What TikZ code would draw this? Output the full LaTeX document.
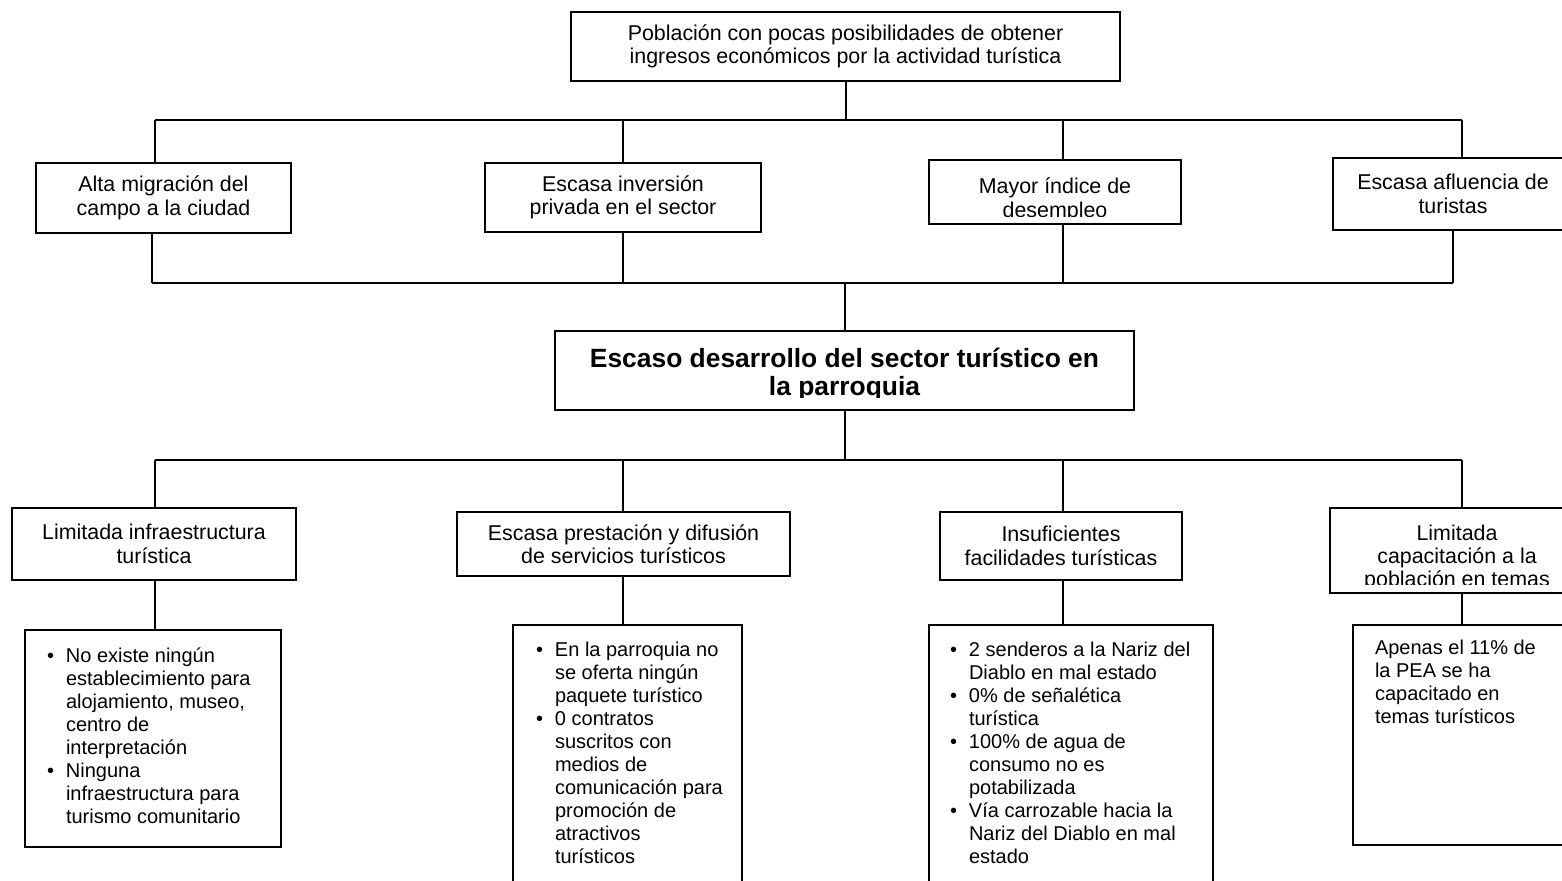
\documentclass[tikz,border=0pt]{standalone}
\usepackage{fontspec}
\setmainfont{Liberation Sans}
\usepackage{tikz}
\usetikzlibrary{positioning, calc}

\newcommand{\bul}{\makebox[9.5pt][l]{\textbullet}}
\newcommand{\ind}{\makebox[9.5pt]{}}

\begin{document}
\begin{tikzpicture}[x=0.5pt, y=-0.5pt, line width=1pt,
  box/.style={draw, inner sep=0pt, align=center, font=\fontsize{10.7}{11.7}\selectfont},
  txt/.style={inner sep=0pt, align=center, font=\fontsize{10.7}{11.7}\selectfont},
  lst/.style={inner sep=0pt, align=left, anchor=north west, font=\fontsize{10}{11.5}\selectfont}]
\clip (0,0) rectangle (1562,881);

% efectos
\node[box, minimum width=274.5pt, minimum height=34.5pt] (top) at (845.5,46.5)
  {Población con pocas posibilidades de obtener\\ingresos económicos por la actividad turística};
\node[box, minimum width=127.5pt, minimum height=35pt] (b1) at (163.5,198) {Alta migración del\\campo a la ciudad};
\node[box, minimum width=138pt, minimum height=34.5pt] (b2) at (623,197.5) {Escasa inversión\\privada en el sector};
\node[box, minimum width=126pt, minimum height=32pt] (b3) at (1055,192) {};
\node[box, minimum width=120pt, minimum height=36pt] (b4) at (1453,194) {Escasa afluencia de\\turistas};
\begin{scope}
  \clip ([yshift=4pt]b3.south west) rectangle (b3.north east);
  \node[txt] (b3t) at (1055,200) {Mayor índice de\\desempleo};
\end{scope}

% problema central
\node[draw, inner sep=0pt, minimum width=289.5pt, minimum height=39.5pt] (mid) at (844.5,370.5) {};
\begin{scope}
  \clip ([yshift=6.5pt]mid.south west) rectangle (mid.north east);
  \node[txt, font=\fontsize{13.2}{14}\selectfont\bfseries] (midt) at (844.5,375)
    {Escaso desarrollo del sector turístico en\\la parroquia};
\end{scope}

% causas
\node[box, minimum width=142pt, minimum height=36pt] (l1) at (154,544) {Limitada infraestructura\\turística};
\node[box, minimum width=166.5pt, minimum height=32pt] (l2) at (623.5,544) {Escasa prestación y difusión\\de servicios turísticos};
\node[box, minimum width=121pt, minimum height=34pt] (l3) at (1061,546) {Insuficientes\\facilidades turísticas};
\node[box, minimum width=127pt, minimum height=42.5pt] (l4) at (1457,550.5) {};
\begin{scope}
  \clip ([yshift=5pt]l4.south west) rectangle (l4.north east);
  \node[txt] (l4t) at (1457,558) {Limitada\\capacitación a la\\población en temas};
\end{scope}

% indicadores
\node[draw, inner sep=0pt, minimum width=128pt, minimum height=108.5pt] (d1) at (153,738.5) {};
\node[draw, inner sep=0pt, minimum width=114.5pt, minimum height=137.5pt] (d2) at (627.5,762.5) {};
\node[draw, inner sep=0pt, minimum width=142pt, minimum height=137.5pt] (d3) at (1071,762.5) {};
\node[draw, inner sep=0pt, minimum width=123.5pt, minimum height=110pt] (d4) at (1476.5,735) {};

\node[lst] (d1t) at (46,647) {\bul No existe ningún\\\ind establecimiento para\\\ind alojamiento, museo,\\\ind centro de\\\ind interpretación\\\bul Ninguna\\\ind infraestructura para\\\ind turismo comunitario};
\node[lst] (d2t) at (535,641) {\bul En la parroquia no\\\ind se oferta ningún\\\ind paquete turístico\\\bul 0 contratos\\\ind suscritos con\\\ind medios de\\\ind comunicación para\\\ind promoción de\\\ind atractivos\\\ind turísticos};
\node[lst] (d3t) at (949,641) {\bul 2 senderos a la Nariz del\\\ind Diablo en mal estado\\\bul 0\% de señalética\\\ind turística\\\bul 100\% de agua de\\\ind consumo no es\\\ind potabilizada\\\bul Vía carrozable hacia la\\\ind Nariz del Diablo en mal\\\ind estado};
\node[lst] (d4t) at (1374,639) {Apenas el 11\% de\\la PEA se ha\\capacitado en\\temas turísticos};

% lineas
\coordinate (t1) at (155,120); \coordinate (t2) at (623,120);
\coordinate (t3) at (1063,120); \coordinate (t4) at (1462,120);
\coordinate (u1) at (152,283); \coordinate (u2) at (623,283);
\coordinate (u3) at (1063,283); \coordinate (u4) at (1453,283);
\coordinate (v1) at (155,460); \coordinate (v2) at (623,460);
\coordinate (v3) at (1063,460); \coordinate (v4) at (1462,460);

\draw (top.south) -- (top.south |- t1);
\draw (t1) -- (t4);
\draw (u1) -- (u4);
\draw (mid.north) -- (mid.north |- u1);
\draw (mid.south) -- (mid.south |- v1);
\draw (v1) -- (v4);
\foreach \i in {1,...,4}{
  \draw (t\i) -- (t\i |- b\i.north);
  \draw (u\i) -- (u\i |- b\i.south);
  \draw (v\i) -- (v\i |- l\i.north);
  \draw (v\i |- l\i.south) -- (v\i |- d\i.north);
}
\end{tikzpicture}
\end{document}
